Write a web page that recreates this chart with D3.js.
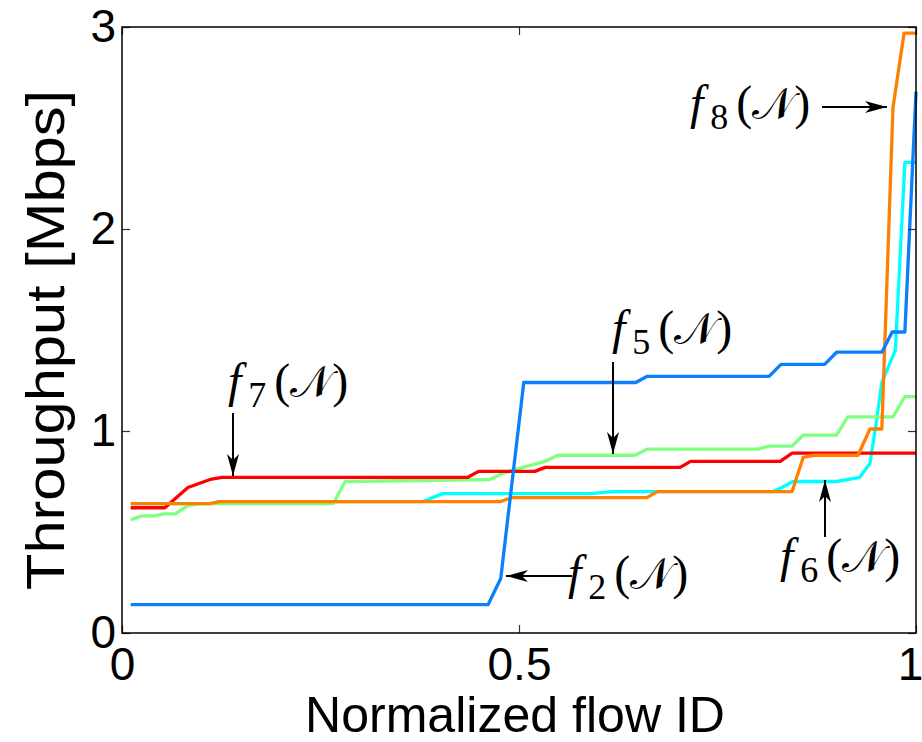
<!DOCTYPE html>
<html>
<head>
<meta charset="utf-8">
<script src="https://cdn.jsdelivr.net/npm/d3@7"></script>
<style>
  body { margin: 0; background: #fff; }
  svg { display: block; }
</style>
</head>
<body>
<span></span>
<script>
// data: normalized flow ID vs throughput (Mbps)
let f2X = [0.011, 0.461, 0.477, 0.506, 0.647, 0.661, 0.815, 0.830, 0.885, 0.900, 0.957, 0.970, 0.986, 1.0];
let f2Y = [0.14, 0.14, 0.27, 1.24, 1.24, 1.27, 1.27, 1.33, 1.33, 1.39, 1.39, 1.49, 1.49, 2.68];

let f5X = [0.011, 0.025, 0.039, 0.054, 0.067, 0.083, 0.098, 0.266, 0.281, 0.463, 0.479, 0.505, 0.533, 0.549, 0.646, 0.661, 0.801, 0.815, 0.844, 0.858, 0.900, 0.914, 0.971, 0.986, 1.0];
let f5Y = [0.56, 0.58, 0.58, 0.59, 0.59, 0.63, 0.64, 0.64, 0.75, 0.76, 0.79, 0.82, 0.85, 0.88, 0.88, 0.91, 0.91, 0.925, 0.925, 0.98, 0.98, 1.07, 1.07, 1.17, 1.17];

let f6X = [0.011, 0.111, 0.123, 0.378, 0.404, 0.589, 0.618, 0.820, 0.831, 0.845, 0.900, 0.929, 0.942, 0.948, 0.957, 0.974, 0.986, 1.0];
let f6Y = [0.64, 0.64, 0.65, 0.65, 0.69, 0.69, 0.70, 0.70, 0.72, 0.75, 0.75, 0.77, 0.84, 0.99, 1.24, 1.40, 2.33, 2.33];

let f7X = [0.011, 0.054, 0.083, 0.111, 0.126, 0.435, 0.449, 0.520, 0.533, 0.703, 0.716, 0.829, 0.844, 1.0];
let f7Y = [0.62, 0.62, 0.72, 0.76, 0.77, 0.77, 0.80, 0.80, 0.82, 0.82, 0.85, 0.85, 0.89, 0.89];

let f8X = [0.011, 0.111, 0.123, 0.476, 0.491, 0.661, 0.674, 0.844, 0.858, 0.873, 0.927, 0.942, 0.957, 0.971, 0.985, 1.0];
let f8Y = [0.64, 0.64, 0.65, 0.65, 0.67, 0.67, 0.70, 0.70, 0.87, 0.88, 0.88, 1.01, 1.01, 2.60, 2.97, 2.97];

let xTicks = [0, 0.5, 1];
let yTicks = [0, 1, 2, 3];

let width = 922;
let height = 742;
let plotLeft = 122, plotRight = 916, plotTop = 27, plotBottom = 633;

let svg = d3.select("span")
    .append("svg")
    .attr("width", width)
    .attr("height", height);

let x = d3.scaleLinear().domain([0, 1]).range([plotLeft, plotRight]);
let y = d3.scaleLinear().domain([0, 3]).range([plotBottom, plotTop]);

// drawing order: the one listed last ends up on top
let series = [
    { xs: f6X, ys: f6Y, color: "#00ffff" },
    { xs: f5X, ys: f5Y, color: "#80ff80" },
    { xs: f7X, ys: f7Y, color: "#ff0000" },
    { xs: f8X, ys: f8Y, color: "#ff8000" },
    { xs: f2X, ys: f2Y, color: "#0a80ff" }
];

let line = d3.line().x(d => x(d[0])).y(d => y(d[1]));

series.forEach(function (s) {
    svg.append("path")
        .attr("d", line(d3.zip(s.xs, s.ys)))
        .attr("fill", "none")
        .attr("stroke", s.color)
        .attr("stroke-width", 3.3)
        .attr("stroke-linejoin", "round");
});

// axes with inward ticks on all four sides
let tickFont = "Liberation Sans, Arial, sans-serif";
let xAxisBottom = svg.append("g")
    .attr("transform", "translate(0," + plotBottom + ")")
    .call(d3.axisBottom(x).tickValues(xTicks).tickSize(-8).tickPadding(14).tickFormat(d3.format("")))
    .call(g => g.select(".domain").remove());
svg.append("g")
    .attr("transform", "translate(0," + plotTop + ")")
    .call(d3.axisTop(x).tickValues(xTicks).tickSize(-8).tickFormat(""))
    .call(g => g.select(".domain").remove());
svg.append("g")
    .attr("transform", "translate(" + plotLeft + ",0)")
    .call(d3.axisLeft(y).tickValues(yTicks).tickSize(-8).tickPadding(6).tickFormat(d3.format("")))
    .call(g => g.select(".domain").remove());
svg.append("g")
    .attr("transform", "translate(" + plotRight + ",0)")
    .call(d3.axisRight(y).tickValues(yTicks).tickSize(-8).tickFormat(""))
    .call(g => g.select(".domain").remove());

svg.selectAll(".tick line").attr("stroke", "#333").attr("stroke-width", 1.2);
svg.selectAll(".tick text")
    .attr("font-family", tickFont)
    .attr("font-size", 46)
    .attr("fill", "#000");
// keep the last x label inside the window
xAxisBottom.selectAll(".tick text").filter(d => d === 1).attr("x", -6);

svg.append("rect")
    .attr("x", plotLeft).attr("y", plotTop)
    .attr("width", plotRight - plotLeft).attr("height", plotBottom - plotTop)
    .attr("fill", "none")
    .attr("stroke", "#000")
    .attr("stroke-width", 1.5);

svg.append("text")
    .attr("x", 515).attr("y", 732)
    .attr("text-anchor", "middle")
    .attr("font-family", tickFont)
    .attr("font-size", 50)
    .attr("textLength", 420)
    .attr("lengthAdjust", "spacingAndGlyphs")
    .text("Normalized flow ID");

svg.append("text")
    .attr("transform", "translate(64,340) rotate(-90)")
    .attr("text-anchor", "middle")
    .attr("font-family", tickFont)
    .attr("font-size", 54)
    .attr("textLength", 500)
    .attr("lengthAdjust", "spacingAndGlyphs")
    .text("Throughput [Mbps]");

// annotations
let notes = [
    { sub: "8", tx: 690, ty: 119, ax1: 822, ay1: 107, ax2: 887, ay2: 107 },
    { sub: "7", tx: 228, ty: 397, ax1: 233, ay1: 413, ax2: 233, ay2: 476 },
    { sub: "5", tx: 612, ty: 344, ax1: 613, ay1: 362, ax2: 613, ay2: 454 },
    { sub: "2", tx: 568, ty: 589, ax1: 572, ay1: 576, ax2: 506, ay2: 576 },
    { sub: "6", tx: 780, ty: 572, ax1: 825, ay1: 537, ax2: 825, ay2: 480 }
];

let defs = svg.append("defs");
defs.append("marker")
    .attr("id", "head")
    .attr("viewBox", "0 0 22 12")
    .attr("refX", 22).attr("refY", 6)
    .attr("markerWidth", 22).attr("markerHeight", 12)
    .attr("markerUnits", "userSpaceOnUse")
    .attr("orient", "auto")
    .append("path")
    .attr("d", "M0,0 L22,6 L0,12 L6,6 Z")
    .attr("fill", "#000");

notes.forEach(function (n) {
    svg.append("line")
        .attr("x1", n.ax1).attr("y1", n.ay1)
        .attr("x2", n.ax2).attr("y2", n.ay2)
        .attr("stroke", "#000")
        .attr("stroke-width", 2)
        .attr("marker-end", "url(#head)");

    let t = svg.append("text")
        .attr("x", n.tx).attr("y", n.ty)
        .attr("font-family", "Liberation Serif, Times New Roman, serif")
        .attr("font-size", 48)
        .attr("fill", "#000");
    t.append("tspan").attr("font-style", "italic").text("f");
    t.append("tspan").attr("font-size", 36).attr("dy", 10).attr("dx", 7).text(n.sub);
    t.append("tspan").attr("dy", -10).attr("dx", 8).text("(");
    t.append("tspan").attr("font-size", 44).text("\u{1D4A9}");
    t.append("tspan").text(")");
});
</script>
</body>
</html>
